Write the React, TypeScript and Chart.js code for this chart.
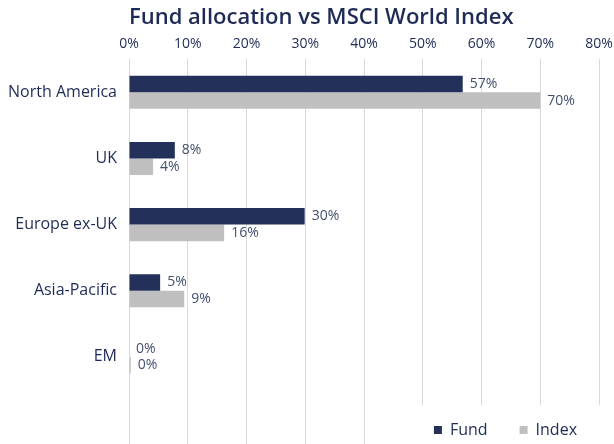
import React, { useEffect, useRef } from "react";
import { Chart, registerables } from "chart.js";

Chart.register(...registerables);

const categories = ["North America", "UK", "Europe ex-UK", "Asia-Pacific", "EM"];
const fundValues = [56.8, 7.8, 29.9, 5.3, 0];
const indexValues = [70, 4.1, 16.2, 9.4, 0.3];
const seriesNames = ["Fund", "Index"];
const xMin = 0;
const xMax = 80;
const xStep = 10;
const titleText = "Fund allocation vs MSCI World Index";

const NAVY = "#1F2B57";
const FUND_COLOR = "#22305A";
const INDEX_COLOR = "#BFBFBF";
const GRID = "#D9D9D9";
const LABEL = "#44506F";
const FONT = "'Open Sans', 'Noto Sans', sans-serif";

const valueLabels = {
  id: "valueLabels",
  afterDatasetsDraw(chart: any) {
    const ctx = chart.ctx;
    ctx.save();
    ctx.font = `14px ${FONT}`;
    ctx.fillStyle = LABEL;
    ctx.textAlign = "left";
    ctx.textBaseline = "middle";
    chart.data.datasets.forEach((ds: any, di: number) => {
      const meta = chart.getDatasetMeta(di);
      meta.data.forEach((bar: any, i: number) => {
        const v = ds.data[i];
        ctx.fillText(Math.round(v) + "%", bar.x + 7, bar.y);
      });
    });
    ctx.restore();
  },
};

const gridExtend = {
  id: "gridExtend",
  beforeDatasetsDraw(chart: any) {
    const { ctx, chartArea, scales, legend } = chart;
    const x = scales.x;
    const boxes = (legend && legend.legendHitBoxes) || [];
    const cutoff = boxes.length ? boxes[0].left - 25 : Infinity;
    ctx.save();
    ctx.strokeStyle = GRID;
    ctx.lineWidth = 1;
    x.ticks.forEach((_t: any, i: number) => {
      const px = Math.round(x.getPixelForTick(i) - 0.5) + 0.5;
      const endY = px < cutoff ? chart.height : chartArea.bottom + 15;
      ctx.beginPath();
      ctx.moveTo(px, chartArea.bottom);
      ctx.lineTo(px, endY);
      ctx.stroke();
    });
    ctx.restore();
  },
};

export default function App() {
  const ref = useRef<HTMLCanvasElement | null>(null);

  useEffect(() => {
    if (!ref.current) return;
    const chart = new Chart(ref.current, {
      type: "bar",
      data: {
        labels: categories,
        datasets: [
          {
            label: seriesNames[0],
            data: fundValues,
            backgroundColor: FUND_COLOR,
            borderWidth: 0,
            categoryPercentage: 0.5,
            barPercentage: 1.0,
          },
          {
            label: seriesNames[1],
            data: indexValues,
            backgroundColor: INDEX_COLOR,
            borderWidth: 0,
            categoryPercentage: 0.5,
            barPercentage: 1.0,
          },
        ],
      },
      options: {
        indexAxis: "y",
        responsive: false,
        animation: false,
        layout: { padding: { bottom: -4, left: 0, right: 5, top: 0 } },
        scales: {
          x: {
            position: "top",
            min: xMin,
            max: xMax,
            ticks: {
              stepSize: xStep,
              padding: 7,
              maxRotation: 0,
              color: NAVY,
              font: { family: FONT, size: 14 },
              callback: (v: any) => v + "%",
            },
            grid: { color: GRID, lineWidth: 1, drawTicks: false },
            border: { display: false },
            afterFit: (scale: any) => {
              scale.paddingRight = 15;
              scale.paddingLeft = 0;
            },
          },
          y: {
            ticks: {
              color: NAVY,
              padding: 12,
              font: { family: FONT, size: 16 },
            },
            grid: { display: false, drawTicks: false },
            border: { display: false },
            afterFit: (scale: any) => {
              scale.width = 129;
              scale.paddingTop = 0;
              scale.paddingBottom = 0;
            },
          },
        },
        plugins: {
          title: {
            display: true,
            fullSize: false,
            align: "start",
            text: titleText,
            color: NAVY,
            font: { family: FONT, size: 22, weight: "600" },
            padding: { top: 5, bottom: -3 },
          },
          legend: {
            position: "bottom",
            align: "end",
            labels: {
              boxWidth: 8,
              boxHeight: 8,
              padding: 32,
              color: NAVY,
              font: { family: FONT, size: 16 },
            },
          },
          tooltip: { enabled: false },
        },
      },
      plugins: [valueLabels, gridExtend],
    } as any);
    return () => chart.destroy();
  }, []);

  return (
    <div style={{ position: "absolute", left: 0, top: 0, width: 614, height: 444, background: "#fff" }}>
      <canvas ref={ref} width={614} height={444} style={{ display: "block" }} />
    </div>
  );
}
